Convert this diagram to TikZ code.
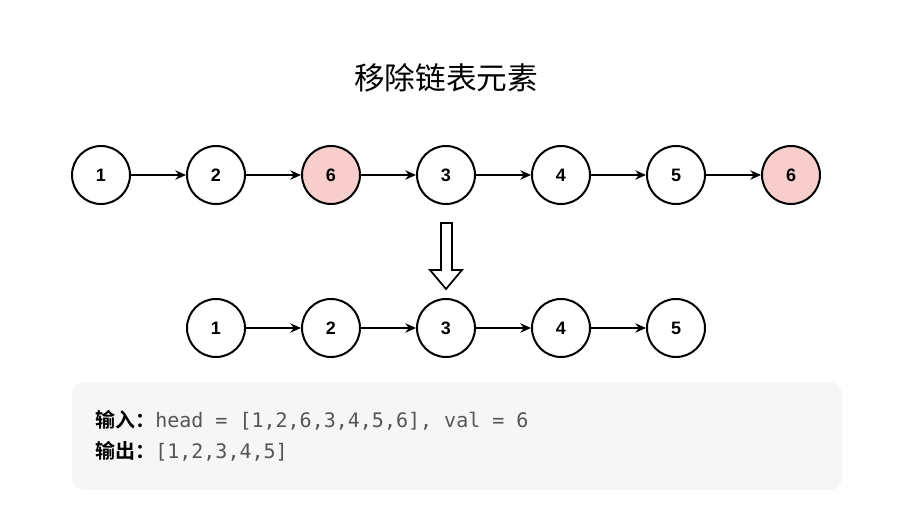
\documentclass[tikz,border=0pt]{standalone}
\usepackage{fontspec}
\setmainfont{Liberation Sans}
\setmonofont{DejaVu Sans Mono}
\newfontfamily\cjk{Noto Sans CJK SC}
\newfontfamily\cjkb{Noto Sans CJK SC}[BoldFont={* Bold}]
\usetikzlibrary{arrows.meta}
\definecolor{pinkf}{HTML}{F8CECC}
\definecolor{codebg}{HTML}{F6F6F6}
\definecolor{codefg}{HTML}{555555}
\begin{document}
\begin{tikzpicture}[x=0.75pt,y=-0.75pt,
  nd/.style={circle,draw,line width=1.5pt,minimum size=43.5pt,inner sep=0pt,fill=white,font=\fontsize{13.5}{16}\selectfont\bfseries},
  red/.style={nd,fill=pinkf},
  lk/.style={line width=1.1pt,-{Stealth[length=8pt,width=7pt]}}]
\useasboundingbox (0,0) rectangle (911,532);
\node[font=\cjk\fontsize{23}{28}\selectfont] (title) at (446,78) {移除链表元素};
\node[nd] (a1) at (101,175) {1};
\node[nd] (a2) at (216,175) {2};
\node[red] (a3) at (331,175) {6};
\node[nd] (a4) at (446,175) {3};
\node[nd] (a5) at (561,175) {4};
\node[nd] (a6) at (676,175) {5};
\node[red] (a7) at (791,175) {6};
\foreach \i/\j in {a1/a2,a2/a3,a3/a4,a4/a5,a5/a6,a6/a7} \draw[lk] (\i) -- (\j);
\node[nd] (b1) at (216,328) {1};
\node[nd] (b2) at (331,328) {2};
\node[nd] (b3) at (446,328) {3};
\node[nd] (b4) at (561,328) {4};
\node[nd] (b5) at (676,328) {5};
\foreach \i/\j in {b1/b2,b2/b3,b3/b4,b4/b5} \draw[lk] (\i) -- (\j);
\draw[line width=1.3pt,fill=white,line join=miter] (441,223) -- (452,223) -- (452,270) -- (462,270) -- (446,289) -- (430,270) -- (441,270) -- cycle;
\fill[codebg,rounded corners=9pt] (72,382) rectangle (842,490);
\node[anchor=west,inner sep=0pt,font=\fontsize{15}{18}\selectfont] (l1) at (95,420) {{\cjkb\bfseries 输入：}\textcolor{codefg}{\ttfamily head = [1,2,6,3,4,5,6], val = 6}};
\node[anchor=west,inner sep=0pt,font=\fontsize{15}{18}\selectfont] (l2) at (95,451) {{\cjkb\bfseries 输出：}\textcolor{codefg}{\ttfamily [1,2,3,4,5]}};
\end{tikzpicture}
\end{document}
